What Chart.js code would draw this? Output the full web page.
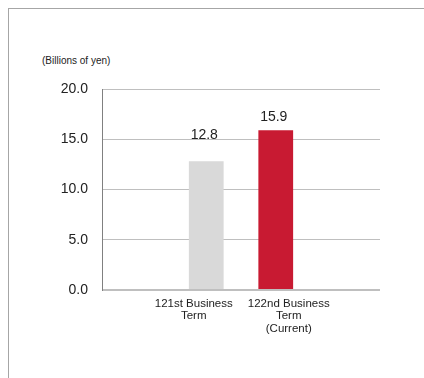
<!DOCTYPE html>
<html>
<head>
<meta charset="utf-8">
<script src="https://cdn.jsdelivr.net/npm/chart.js@4/dist/chart.umd.min.js"></script>
<style>
    body { margin: 0; background: #fff; font-family: "Liberation Sans", Arial, sans-serif; }
    #wrap { position: relative; width: 424px; height: 378px; overflow: hidden; }
    #frame { position: absolute; left: 8px; top: 8px; width: 430px; height: 390px;
             border-top: 1px solid #a6a6a6; border-left: 1px solid #a6a6a6; }
    #unit { position: absolute; left: 42px; top: 55px; font-size: 10px; color: #222; }
    #chart { position: absolute; left: 0; top: 0; }
</style>
</head>
<body>
<div id="wrap">
    <div id="frame"></div>
    <div id="unit">(Billions of yen)</div>
    <canvas id="chart" width="424" height="378"></canvas>
</div>
<script>
// empty slots on both sides keep the two bars in the middle of the plot
const terms = ['', ['121st Business', 'Term'], ['122nd Business', 'Term', '(Current)'], ''];
const profit = [null, 12.8, 15.9, null];
const barColors = ['#d9d9d9', '#d9d9d9', '#c81a32', '#d9d9d9'];
const yTicks = [0, 5, 10, 15, 20];

const FONT = '"Liberation Sans", Arial, sans-serif';

// value above each bar
const valueLabels = {
    id: 'valueLabels',
    afterDatasetsDraw(chart) {
        const ctx = chart.ctx;
        const lift = [0, 26, 13, 0];
        chart.getDatasetMeta(0).data.forEach((bar, i) => {
            if (profit[i] == null) return;
            ctx.save();
            ctx.font = '14px ' + FONT;
            ctx.fillStyle = '#222';
            ctx.textAlign = 'center';
            ctx.textBaseline = 'middle';
            ctx.fillText(profit[i].toFixed(1), bar.x - 2, bar.y - lift[i]);
            ctx.restore();
        });
    }
};

// category names under the axis, nudged off the bar centres
const termLabels = {
    id: 'termLabels',
    afterDraw(chart) {
        const ctx = chart.ctx;
        const xs = chart.scales.x;
        const shift = [0, -12.5, 13, 0];
        const base = chart.chartArea.bottom + 16.5;
        ctx.save();
        ctx.font = '11.5px ' + FONT;
        ctx.fillStyle = '#222';
        ctx.textAlign = 'center';
        ctx.textBaseline = 'alphabetic';
        terms.forEach((lines, i) => {
            if (!lines) return;
            const x = xs.getPixelForTick(i) + shift[i];
            lines.forEach((t, k) => ctx.fillText(t, x, base + k * 12.6));
        });
        ctx.restore();
    }
};

new Chart(document.getElementById('chart'), {
    type: 'bar',
    data: {
        labels: terms,
        datasets: [{
            data: profit,
            backgroundColor: barColors,
            borderWidth: 0,
            categoryPercentage: 1,
            barPercentage: 0.5
        }]
    },
    options: {
        responsive: false,
        animation: false,
        layout: { padding: { top: 89, right: 44, left: 0, bottom: 0 } },
        plugins: { legend: { display: false }, tooltip: { enabled: false } },
        scales: {
            x: {
                grid: { display: false },
                border: { display: false },
                afterFit: scale => { scale.height = 88; },
                ticks: { display: false }
            },
            y: {
                min: 0,
                max: 20,
                afterFit: scale => { scale.width = 102; },
                afterBuildTicks: scale => { scale.ticks = yTicks.map(v => ({ value: v })); },
                grid: {
                    drawTicks: false,
                    color: '#bfbfbf',
                    lineWidth: c => c.tick && c.tick.value === 0 ? 2 : 1
                },
                border: { color: '#808080', width: 1 },
                ticks: {
                    padding: 14,
                    color: '#222',
                    font: { family: FONT, size: 14 },
                    callback: v => v.toFixed(1)
                }
            }
        }
    },
    plugins: [valueLabels, termLabels]
});
</script>
</body>
</html>
